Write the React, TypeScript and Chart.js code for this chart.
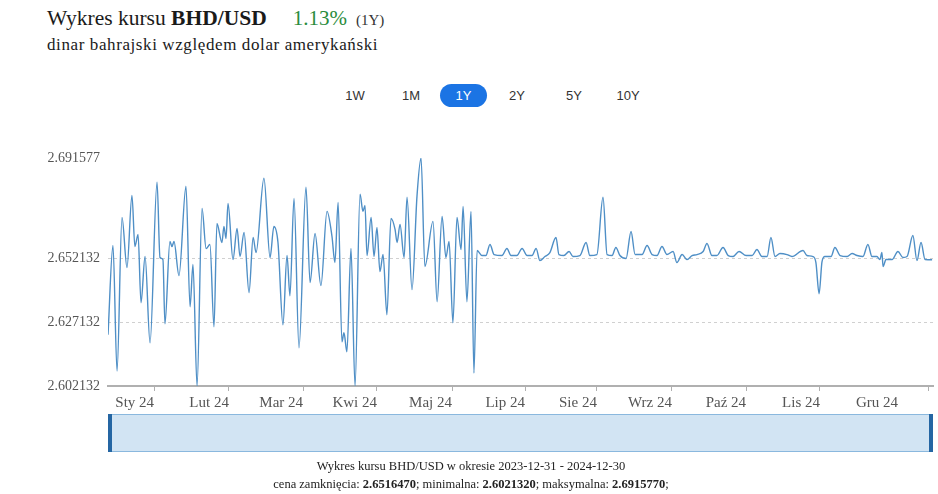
import React, { useEffect, useRef } from "react";
import { Chart, registerables } from "chart.js";

Chart.register(...registerables);

// Days since 2023-12-31 for each sampled point
const dayOffsets: number[] = [
  0, 2.2, 4.0, 6.2, 8.4, 10.6, 11.9, 13.3, 14.6, 16.4, 18.6, 21.7, 23.0, 24.3, 25.2, 27.4, 28.3, 29.2, 31.4, 34.5,
  36.3, 37.6, 39.4, 41.6, 43.4, 45.1, 46.9, 48.2, 50.4, 51.3, 52.2, 53.1, 55.3, 57.1, 58.4, 60.2, 62.4, 64.2, 65.5, 69.0,
  71.7, 73.4, 75.2, 77.4, 79.2, 80.5, 82.3, 84.5, 87.6, 89.4, 91.6, 94.2, 96.9, 99.1, 100.4, 101.8, 103.5, 104.4, 105.7, 107.5,
  109.3, 111.5, 112.8, 113.7, 114.6, 116.4, 117.7, 119.0, 120.3, 121.7, 123.4, 125.2, 127.0, 127.9, 129.2, 131.0, 132.3, 134.5, 136.7, 138.5,
  140.2, 143.8, 145.6, 147.8, 149.5, 150.9, 152.6, 154.4, 156.2, 157.1, 158.8, 160.6, 161.9, 163.3, 165.5, 167.2, 169.0, 170.8, 174.3, 176.5,
  178.3, 180.9, 183.2, 185.4, 187.6, 189.4, 191.1, 193.3, 195.5, 198.2, 199.5, 201.7, 204.0, 205.7, 208.8, 211.5, 213.2, 216.3, 219.0, 220.8,
  223.0, 224.7, 226.5, 229.2, 231.4, 233.2, 236.3, 238.5, 240.7, 242.9, 245.1, 247.3, 250.0, 251.7, 254.0, 256.2, 258.4, 260.6, 263.3, 265.0,
  267.2, 269.4, 272.1, 274.4, 276.5, 279.2, 282.3, 285.0, 287.1, 289.3, 291.6, 293.3, 295.1, 297.3, 300.4, 302.6, 307.5, 309.2, 311.9, 313.2,
  314.6, 315.9, 317.2, 319.9, 321.6, 323.9, 327.0, 329.2, 331.4, 334.0, 336.2, 338.0, 340.2, 341.5, 342.4, 342.9, 344.2, 346.9, 349.5, 351.7,
  353.5, 356.1, 357.9, 359.7, 361.5, 364.6,
];

// BHD/USD rate at each sampled point
const rates: number[] = [
  2.62221, 2.65725, 2.60804, 2.66827, 2.64859, 2.67693, 2.65685, 2.66158, 2.63481, 2.65292, 2.61906, 2.68205, 2.65253, 2.65174, 2.62654, 2.65882, 2.65685, 2.65882, 2.64544, 2.68048,
  2.63323, 2.64977, 2.60213, 2.67182, 2.65607, 2.65764, 2.62536, 2.66591, 2.65843, 2.66473, 2.66000, 2.67378, 2.65174, 2.66394, 2.65292, 2.66237, 2.63874, 2.66040, 2.65449, 2.68363,
  2.65253, 2.66473, 2.65843, 2.62615, 2.65331, 2.63756, 2.67575, 2.61709, 2.68008, 2.64268, 2.66197, 2.64150, 2.67063, 2.66079, 2.65056, 2.67418, 2.61945, 2.62300, 2.61552, 2.65607,
  2.60213, 2.67733, 2.67063, 2.67300, 2.65331, 2.66827, 2.65292, 2.66433, 2.64701, 2.65370, 2.63008, 2.66788, 2.66355, 2.65843, 2.66552, 2.65253, 2.67615, 2.63993, 2.67654, 2.69158,
  2.64898, 2.66670, 2.63520, 2.66867, 2.65253, 2.65882, 2.62693, 2.66827, 2.65567, 2.67260, 2.63520, 2.67063, 2.60725, 2.65528, 2.65331, 2.65331, 2.65764, 2.65370, 2.65331, 2.65607,
  2.65331, 2.65331, 2.65607, 2.65331, 2.65331, 2.65607, 2.65134, 2.65292, 2.65449, 2.66040, 2.65370, 2.65331, 2.65489, 2.65292, 2.65331, 2.65843, 2.65331, 2.65370, 2.67615, 2.65370,
  2.65331, 2.65646, 2.65331, 2.65213, 2.66276, 2.65370, 2.65370, 2.65725, 2.65370, 2.65331, 2.65685, 2.65370, 2.65489, 2.65056, 2.65370, 2.65174, 2.65331, 2.65370, 2.65489, 2.65804,
  2.65331, 2.65331, 2.65646, 2.65331, 2.65292, 2.65489, 2.65331, 2.65331, 2.65567, 2.65292, 2.65292, 2.66040, 2.65292, 2.65410, 2.65370, 2.65292, 2.65528, 2.65331, 2.65292, 2.65056,
  2.63835, 2.65095, 2.65292, 2.65292, 2.65646, 2.65331, 2.65292, 2.65410, 2.65331, 2.65292, 2.65764, 2.65292, 2.65292, 2.65174, 2.65449, 2.64898, 2.65174, 2.65174, 2.65489, 2.65253,
  2.65292, 2.66119, 2.65134, 2.65843, 2.65174, 2.65165,
];

const monthLabels: string[] = ["Sty 24", "Lut 24", "Mar 24", "Kwi 24", "Maj 24", "Lip 24", "Sie 24", "Wrz 24", "Paź 24", "Lis 24", "Gru 24", ""];
const monthTickDays: number[] = [20.4, 53.5, 86.3, 119.0, 152.2, 184.5, 216.3, 249.5, 282.3, 315.0, 349.5, 362.8];
const yTickValues: number[] = [2.602132, 2.627132, 2.652132, 2.691577];
const rangeButtons: string[] = ["1W", "1M", "1Y", "2Y", "5Y", "10Y"];
const buttonCenters: number[] = [355, 411, 465, 517, 574, 628];

const serif = '"Liberation Serif", "Times New Roman", serif';
const sans = '"Liberation Sans", Arial, sans-serif';

export default function App() {
  const canvasRef = useRef<HTMLCanvasElement | null>(null);

  useEffect(() => {
    const canvas = canvasRef.current;
    if (!canvas) return;
    const points = dayOffsets.map((d, i) => ({ x: d, y: rates[i] }));
    const chart = new Chart(canvas, {
      type: "line",
      data: {
        datasets: [
          {
            data: points,
            borderColor: "#4f8fc6",
            borderWidth: 1.4,
            pointRadius: 0,
            cubicInterpolationMode: "monotone",
            fill: false,
          },
        ],
      },
      options: {
        animation: false,
        responsive: false,
        maintainAspectRatio: false,
        events: [],
        layout: { padding: { top: 158, right: 5, left: 0, bottom: 0 }, autoPadding: false } as any,
        plugins: { legend: { display: false }, tooltip: { enabled: false }, title: { display: false } },
        scales: {
          x: {
            type: "linear",
            min: 0,
            max: 365,
            afterBuildTicks: (scale: any) => {
              scale.ticks = monthTickDays.map((v) => ({ value: v }));
            },
            afterFit: (scale: any) => {
              scale.height = 34;
            },
            border: { display: true, color: "#b0b0b0", width: 2 },
            grid: {
              display: true,
              drawOnChartArea: false,
              drawTicks: true,
              tickLength: 5,
              tickWidth: 1,
              tickColor: (ctx: any) => (ctx.index === 10 ? "rgba(0,0,0,0)" : "#b0b0b0"),
              color: "rgba(0,0,0,0)",
            },
            ticks: {
              autoSkip: false,
              maxRotation: 0,
              align: "end",
              padding: 3,
              color: "#555",
              font: { family: serif, size: 15 },
              callback: (_v: any, i: number) => monthLabels[i],
            },
          },
          y: {
            type: "linear",
            min: 2.602132,
            max: 2.691577,
            afterBuildTicks: (scale: any) => {
              scale.ticks = yTickValues.map((v) => ({ value: v }));
            },
            afterFit: (scale: any) => {
              scale.width = 108;
            },
            border: { display: false, dash: [3, 3] },
            grid: {
              drawTicks: false,
              lineWidth: 1,
              borderDash: [3, 3],
              color: (ctx: any) =>
                ctx.tick && (ctx.tick.value === 2.627132 || ctx.tick.value === 2.652132) ? "#d0d0d0" : "rgba(0,0,0,0)",
            } as any,
            ticks: {
              padding: 8,
              color: "#555",
              font: { family: serif, size: 14 },
              callback: (v: any) => Number(v).toFixed(6),
            },
          },
        },
      } as any,
    });
    return () => chart.destroy();
  }, []);

  return (
    <div style={{ position: "absolute", left: 0, top: 0, width: 938, height: 494, background: "#fff", overflow: "hidden" }}>
      <div style={{ position: "absolute", left: 47, top: 6, whiteSpace: "nowrap", fontFamily: serif, color: "#1a1a1a" }}>
        <span style={{ fontSize: 21.5 }}>
          Wykres kursu <b>BHD/USD</b>
        </span>
        <span style={{ fontSize: 21, color: "#2a8c3c", marginLeft: 26 }}>1.13%</span>
        <span style={{ fontSize: 15, color: "#333", marginLeft: 9 }}>(1Y)</span>
      </div>
      <div
        style={{
          position: "absolute",
          left: 47,
          top: 35,
          whiteSpace: "nowrap",
          fontFamily: serif,
          fontSize: 17,
          letterSpacing: 0.6,
          color: "#1a1a1a",
        }}
      >
        dinar bahrajski względem dolar amerykański
      </div>
      {rangeButtons.map((b, i) =>
        b === "1Y" ? (
          <div
            key={b}
            style={{
              position: "absolute",
              left: 440,
              top: 84,
              width: 47,
              height: 23,
              borderRadius: 12,
              background: "#1b74e4",
              color: "#fff",
              fontFamily: sans,
              fontSize: 13,
              lineHeight: "23px",
              textAlign: "center",
            }}
          >
            {b}
          </div>
        ) : (
          <div
            key={b}
            style={{
              position: "absolute",
              left: buttonCenters[i] - 25,
              top: 84,
              width: 50,
              height: 23,
              color: "#333",
              fontFamily: sans,
              fontSize: 13,
              lineHeight: "23px",
              textAlign: "center",
            }}
          >
            {b}
          </div>
        )
      )}
      <canvas
        ref={canvasRef}
        width={938}
        height={420}
        style={{ position: "absolute", left: 0, top: 0, width: 938, height: 420 }}
      />
      <div
        style={{
          position: "absolute",
          left: 108,
          top: 414,
          width: 825,
          height: 38,
          boxSizing: "border-box",
          background: "#d2e4f3",
          border: "1px solid #8ab8de",
        }}
      />
      <div style={{ position: "absolute", left: 108, top: 414, width: 4, height: 38, background: "#2566a3" }} />
      <div style={{ position: "absolute", left: 929, top: 414, width: 4, height: 38, background: "#2566a3" }} />
      <div
        style={{
          position: "absolute",
          left: 0,
          top: 457,
          width: 942,
          textAlign: "center",
          fontFamily: serif,
          fontSize: 12.5,
          lineHeight: "18px",
          color: "#222",
          whiteSpace: "nowrap",
        }}
      >
        <div>Wykres kursu BHD/USD w okresie 2023-12-31 - 2024-12-30</div>
        <div>
          cena zamknięcia: <b>2.6516470</b>; minimalna: <b>2.6021320</b>; maksymalna: <b>2.6915770</b>;
        </div>
      </div>
    </div>
  );
}
